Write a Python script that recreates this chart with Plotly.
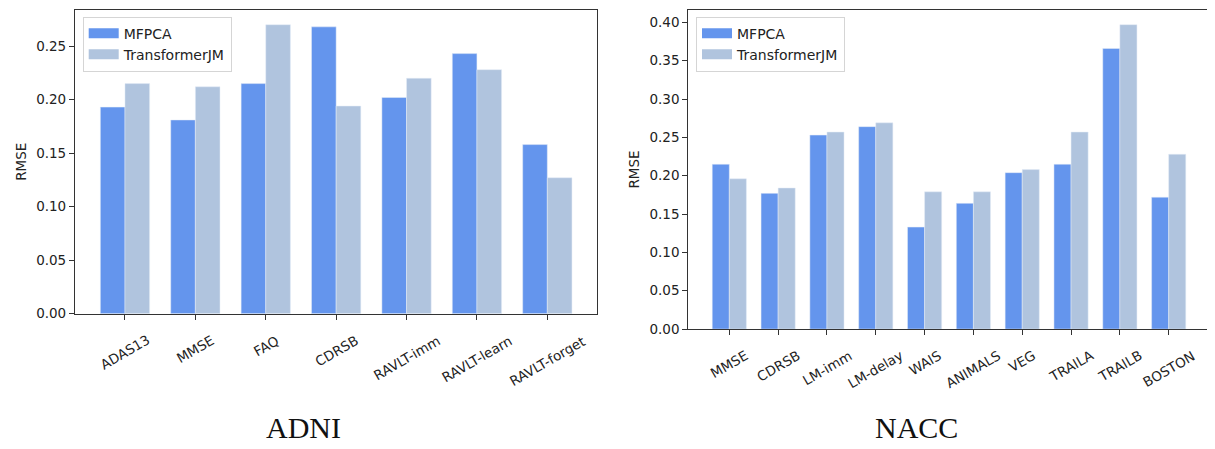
import plotly.graph_objects as go

# ---------------- data ----------------
adni_tasks = ["ADAS13", "MMSE", "FAQ", "CDRSB", "RAVLT-imm", "RAVLT-learn", "RAVLT-forget"]
adni_mfpca = [0.193, 0.181, 0.215, 0.268, 0.202, 0.243, 0.158]
adni_tjm = [0.215, 0.212, 0.270, 0.194, 0.220, 0.228, 0.127]

nacc_tasks = ["MMSE", "CDRSB", "LM-imm", "LM-delay", "WAIS", "ANIMALS", "VEG", "TRAILA", "TRAILB", "BOSTON"]
nacc_mfpca = [0.215, 0.177, 0.253, 0.264, 0.133, 0.164, 0.204, 0.215, 0.366, 0.172]
nacc_tjm = [0.196, 0.184, 0.257, 0.269, 0.179, 0.179, 0.208, 0.257, 0.397, 0.228]

series_names = ["MFPCA", "TransformerJM"]
panel_titles = ["ADNI", "NACC"]
y_label = "RMSE"

# ---------------- styling ----------------
PAGE_OFF = 8            # default body margin of the html page
W, H = 1215 - PAGE_OFF, 449 - PAGE_OFF
C1, C2 = "#6495ED", "#B0C4DE"
TXT = "#222222"
SANS = "DejaVu Sans"
FS = 13.5


def px(x):
    return (x - PAGE_OFF) / W


def py(y):
    return 1 - (y - PAGE_OFF) / H


# approximate DejaVu Sans advance widths (em) to centre rotated labels
_EM = {"A": .684, "B": .686, "C": .698, "D": .770, "E": .632, "F": .575, "G": .775, "I": .295,
       "J": .295, "L": .557, "M": .863, "N": .748, "O": .787, "P": .603, "Q": .787, "R": .695,
       "S": .635, "T": .611, "V": .684, "W": .989, "a": .613, "d": .635, "e": .615, "f": .352,
       "g": .635, "i": .278, "l": .278, "m": .974, "n": .634, "o": .612, "r": .411, "t": .392,
       "y": .592, "-": .361}


def text_len(s):
    return sum(_EM.get(c, .636) for c in s) * FS


fig = go.Figure()

# bars
fig.add_trace(go.Bar(x=adni_tasks, y=adni_mfpca, name=series_names[0], marker_color=C1,
                     xaxis="x", yaxis="y", showlegend=False, offsetgroup="a"))
fig.add_trace(go.Bar(x=adni_tasks, y=adni_tjm, name=series_names[1], marker_color=C2,
                     xaxis="x", yaxis="y", showlegend=False, offsetgroup="b"))
fig.add_trace(go.Bar(x=nacc_tasks, y=nacc_mfpca, name=series_names[0], marker_color=C1,
                     xaxis="x2", yaxis="y2", showlegend=False, offsetgroup="a"))
fig.add_trace(go.Bar(x=nacc_tasks, y=nacc_tjm, name=series_names[1], marker_color=C2,
                     xaxis="x2", yaxis="y2", showlegend=False, offsetgroup="b"))

# legend entries (wide flat patches like matplotlib)
for lg, xa, ya in [("legend", "x", "y"), ("legend2", "x2", "y2")]:
    for name, col in zip(series_names, [C1, C2]):
        fig.add_trace(go.Scatter(x=[None], y=[None], mode="lines", name=name,
                                 line=dict(color=col, width=10), xaxis=xa, yaxis=ya,
                                 legend=lg, showlegend=True, hoverinfo="skip"))

axis_common = dict(showline=True, mirror=True, linecolor="#333333", linewidth=1.2,
                   ticks="outside", ticklen=5, tickwidth=1, tickcolor="#333333",
                   showgrid=False, zeroline=False)

# panel geometry (page pixels)
L_x0, L_x1, L_top, L_bot = 75, 597.3, 10, 319.3
R_x0, R_x1, R_top, R_bot = 688.3, 1209.7, 10, 335

fig.update_layout(
    width=W, height=H,
    margin=dict(l=0, r=0, t=0, b=0),
    paper_bgcolor="white", plot_bgcolor="white",
    barmode="group", bargap=0.3, bargroupgap=0,
    font=dict(family=SANS, size=FS, color=TXT),
    xaxis=dict(domain=[px(L_x0), px(L_x1)], anchor="y", type="category",
               range=[-0.71, len(adni_tasks) - 1 + 0.71], showticklabels=False, **axis_common),
    yaxis=dict(domain=[py(L_bot), py(L_top)], anchor="x", range=[0, 0.2838],
               dtick=0.05, tick0=0, tickformat=".2f", tickfont=dict(size=FS, color=TXT),
               **axis_common),
    xaxis2=dict(domain=[px(R_x0), px(R_x1)], anchor="y2", type="category",
                range=[-0.84, len(nacc_tasks) - 1 + 0.84], showticklabels=False, **axis_common),
    yaxis2=dict(domain=[py(R_bot), py(R_top)], anchor="x2", range=[0, 0.4162],
                dtick=0.05, tick0=0, tickformat=".2f", tickfont=dict(size=FS, color=TXT),
                **axis_common),
    legend=dict(x=px(82.7), y=py(16.7), xanchor="left", yanchor="top",
                bgcolor="white", bordercolor="#d5d5d5", borderwidth=1,
                font=dict(family=SANS, size=14, color=TXT), itemwidth=30),
    legend2=dict(x=px(696), y=py(16.7), xanchor="left", yanchor="top",
                 bgcolor="white", bordercolor="#d5d5d5", borderwidth=1,
                 font=dict(family=SANS, size=14, color=TXT), itemwidth=30),
)

annotations = []
# rotated category labels (rotated box top-aligned & centred on ticks like matplotlib)
for tasks, xr, ybot in [(adni_tasks, "x", L_bot), (nacc_tasks, "x2", R_bot)]:
    for t in tasks:
        rot_h = 0.5 * text_len(t) + 0.866 * 15.8
        annotations.append(dict(x=t, xref=xr, y=py(ybot + 19 + rot_h / 2), yref="paper",
                                text=t, textangle=-30, showarrow=False,
                                xanchor="center", yanchor="middle",
                                font=dict(family=SANS, size=FS, color=TXT)))
# y axis titles
annotations.append(dict(x=px(21), y=py((L_top + L_bot) / 2), xref="paper", yref="paper",
                        text=y_label, textangle=-90, showarrow=False,
                        xanchor="center", yanchor="middle",
                        font=dict(family=SANS, size=FS, color=TXT)))
annotations.append(dict(x=px(634), y=py((R_top + R_bot) / 2), xref="paper", yref="paper",
                        text=y_label, textangle=-90, showarrow=False,
                        xanchor="center", yanchor="middle",
                        font=dict(family=SANS, size=FS, color=TXT)))
# panel captions
for title, cx in zip(panel_titles, [303.5, 916.5]):
    annotations.append(dict(x=px(cx), y=py(435), xref="paper", yref="paper",
                            text=title, showarrow=False, xanchor="center", yanchor="middle",
                            font=dict(family="Liberation Serif", size=30, color="#111111")))

fig.update_layout(annotations=annotations)

fig.write_html("out.html")
